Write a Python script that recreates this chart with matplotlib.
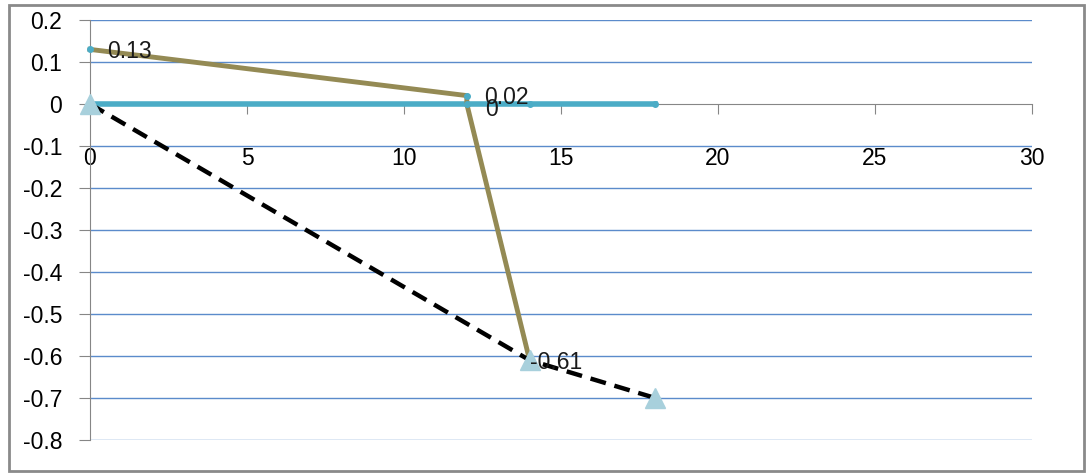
import matplotlib
matplotlib.use("Agg")
import matplotlib.pyplot as plt
from matplotlib.patches import Rectangle

plt.rcParams['font.family'] = ['Liberation Sans', 'DejaVu Sans']

# Series data
flat_x = [0, 12, 14, 18]
flat_y = [0, 0, 0, 0]

path_x = [0, 12, 12, 14]
path_y = [0.13, 0.02, 0, -0.61]
path_labels = ["0.13", "0.02", "0", "-0.61"]

trend_x = [0, 14, 18]
trend_y = [0, -0.61, -0.70]

x_ticks = [0, 5, 10, 15, 20, 25, 30]
y_ticks = [0.2, 0.1, 0, -0.1, -0.2, -0.3, -0.4, -0.5, -0.6, -0.7, -0.8]

W, H = 1087, 475
FS = 16.5
fig = plt.figure(figsize=(W / 100, H / 100), dpi=100)
fig.patch.set_facecolor('white')

# outer chart frame
fig.add_artist(Rectangle((9 / W, 4 / H), (1084 - 9) / W, (470 - 4) / H,
                         transform=fig.transFigure, fill=False,
                         edgecolor='#8a8a8a', linewidth=2))

ax = fig.add_axes([90 / W, 1 - 440 / H, (1032 - 90) / W, (440 - 20) / H])
ax.set_xlim(0, 30)
ax.set_ylim(-0.8, 0.2)

grid_color = '#5b8bcb'
for yv in y_ticks:
    if yv != 0:
        ax.axhline(yv, color=grid_color, linewidth=1.0, zorder=0.5)

for s in ['top', 'right']:
    ax.spines[s].set_visible(False)
ax.spines['bottom'].set_position(('data', 0))
ax.spines['bottom'].set_color('#868686')
ax.spines['left'].set_color('#868686')
ax.spines['bottom'].set_zorder(0.6)

ax.set_xticks(x_ticks)
ax.set_xticklabels([str(v) for v in x_ticks])
ax.set_yticks(y_ticks)
ax.set_yticklabels(["0" if v == 0 else f"{v:g}" for v in y_ticks])
ax.tick_params(axis='x', direction='out', length=7, color='#868686',
               pad=24, labelsize=FS)
ax.tick_params(axis='y', direction='out', length=8, color='#868686',
               pad=12, labelsize=FS)

teal = '#4bacc6'
olive = '#948a54'

ax.plot(flat_x, flat_y, color=teal, linewidth=4, marker='o',
        markersize=4, zorder=3, clip_on=False)
ax.plot(path_x, path_y, color=olive, linewidth=3.5, marker='o',
        markersize=4, markerfacecolor=teal, markeredgecolor=teal,
        zorder=4, clip_on=False)
ax.plot(trend_x, trend_y, color='black', linewidth=3.2, linestyle=(0, (3.6, 2)),
        zorder=5, clip_on=False)
ax.plot(trend_x, trend_y, linestyle='none', marker='^', markersize=14,
        color='#a8d0dc', zorder=6, clip_on=False)

offsets = {"0.13": (17, -2), "0.02": (17, -2), "0": (18, -5), "-0.61": (0, -2)}
for x, y, lab in zip(path_x, path_y, path_labels):
    dx, dy = offsets[lab]
    ax.annotate(lab, (x, y), xytext=(dx, dy), textcoords='offset pixels',
                ha='left', va='center', fontsize=FS, color='#1a1a1a',
                zorder=7)

fig.savefig('out.png', dpi=100, facecolor='white')
